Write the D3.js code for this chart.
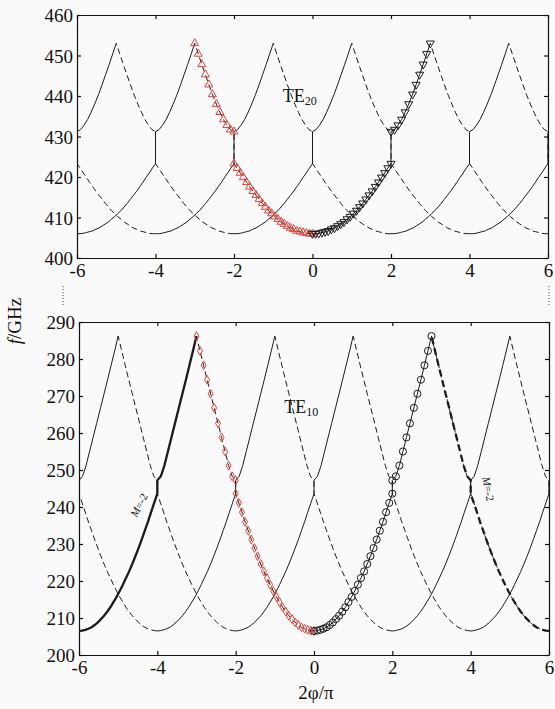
<!DOCTYPE html>
<html lang="en">
<head>
<meta charset="UTF-8">
<script src="https://cdn.jsdelivr.net/npm/d3@7"></script>
<title>TE20 / TE10 dispersion</title>
<style>
  body { margin: 0; background: #fafafa; }
  svg text { font-family: "Liberation Serif", "DejaVu Serif", serif; fill: #111; }
</style>
</head>
<body>
<script>
// phase axis ticks and the zone centres the folded branches repeat at
const xTicks = [-6, -4, -2, 0, 2, 4, 6];
const centers = [-8, -6, -4, -2, 0, 2, 4, 6, 8];

// distance from the zone centre (in units of 2phi/pi)
const lowPhase = [0, 0.08, 0.16, 0.24, 0.32, 0.40, 0.48, 0.56, 0.64, 0.72, 0.80, 0.88, 0.96,
                  1.04, 1.12, 1.20, 1.28, 1.36, 1.44, 1.52, 1.60, 1.68, 1.76, 1.84, 1.92, 2.00];
const upPhase = [2.00, 2.09, 2.18, 2.27, 2.36, 2.45, 2.55, 2.64, 2.73, 2.82, 2.91, 3.00];

// TE20 (top)
const te20Ticks = [400, 410, 420, 430, 440, 450, 460];
const te20Low = [406.0, 406.0, 406.1, 406.3, 406.5, 406.7, 407.1, 407.4, 407.9, 408.4, 408.9, 409.6, 410.2,
                 411.0, 411.7, 412.6, 413.5, 414.5, 415.5, 416.5, 417.6, 418.7, 419.9, 421.0, 422.2, 423.3];
const te20Up = [431.2, 431.7, 432.8, 434.2, 436.0, 438.0, 440.4, 442.8, 445.3, 447.8, 450.4, 453.0];

// TE10 (bottom)
const te10Ticks = [200, 210, 220, 230, 240, 250, 260, 270, 280, 290];
const te10Low = [206.5, 206.6, 206.8, 207.1, 207.5, 208.1, 208.8, 209.7, 210.6, 211.7, 212.9, 214.3, 215.7,
                 217.3, 219.0, 220.8, 222.6, 224.6, 226.7, 228.9, 231.2, 233.6, 236.0, 238.6, 241.1, 243.6];
const te10Up = [247.2, 248.3, 251.2, 255.0, 258.8, 262.6, 266.8, 270.6, 274.4, 278.3, 282.2, 286.2];

const width = 555, height = 709;
const red = "#e0443c", ink = "#1c1c1c";

const svg = d3.select("body").append("svg")
  .attr("width", width)
  .attr("height", height)
  .attr("viewBox", [0, 0, width, height]);

function drawPanel(p) {
  const x = d3.scaleLinear().domain([-6, 6]).range([p.left, p.right]);
  const y = d3.scaleLinear().domain(p.yDomain).range([p.bottom, p.top]);
  const line = d3.line().x(d => x(d[0])).y(d => y(d[1]));

  // one side of a folded branch: lower band, jump across the gap, upper band
  const branch = (c, side) =>
    lowPhase.map((d, i) => [c + side * d, p.low[i]])
      .concat(upPhase.map((d, i) => [c + side * d, p.up[i]]));

  svg.append("clipPath").attr("id", "clip" + p.id)
    .append("rect")
    .attr("x", p.left).attr("y", p.top)
    .attr("width", p.right - p.left).attr("height", p.bottom - p.top);

  const g = svg.append("g").attr("clip-path", `url(#clip${p.id})`);

  // dashed (backward) sides first, solid (forward) on top
  centers.forEach(c => {
    g.append("path")
      .attr("d", line(branch(c, -1)))
      .attr("fill", "none").attr("stroke", ink).attr("stroke-width", 1)
      .attr("stroke-dasharray", "6,3.5");
  });
  centers.forEach(c => {
    g.append("path")
      .attr("d", line(branch(c, 1)))
      .attr("fill", "none").attr("stroke", ink).attr("stroke-width", 1);
  });

  if (p.thick) {
    g.append("path")
      .attr("d", line(branch(-6, 1)))
      .attr("fill", "none").attr("stroke", ink).attr("stroke-width", 2.3);
    g.append("path")
      .attr("d", line(branch(6, -1)))
      .attr("fill", "none").attr("stroke", ink).attr("stroke-width", 2.3)
      .attr("stroke-dasharray", "7,4");
  }

  // markers on the zone-0 branch
  const leftPts = branch(0, -1), rightPts = branch(0, 1);
  const sym = (type, size, rot, color, pts) => {
    g.selectAll(null)
      .data(pts)
      .join("path")
      .attr("d", d3.symbol(type, size))
      .attr("transform", d => `translate(${x(d[0])},${y(d[1])}) rotate(${rot})`)
      .attr("fill", "none")
      .attr("stroke", color)
      .attr("stroke-width", 1);
  };
  if (p.id === "top") {
    sym(d3.symbolTriangle, 28, 0, red, leftPts);
    sym(d3.symbolTriangle, 28, 180, ink, rightPts);
  } else {
    sym(d3.symbolDiamond, 22, 0, red, leftPts);
    sym(d3.symbolCircle, 40, 0, ink, rightPts);
  }

  // frame and axes, ticks pointing inwards
  const fmt = d => String(d);
  const styleAxis = a => a.call(s => s.selectAll("text")
      .attr("font-family", '"Liberation Serif", serif').attr("font-size", 19).attr("fill", "#111"))
    .call(s => s.selectAll("line,path").attr("stroke", "#111").attr("stroke-width", 1.2));

  svg.append("g").attr("transform", `translate(0,${p.bottom})`)
    .call(d3.axisBottom(x).tickValues(xTicks).tickSize(-4).tickSizeOuter(0).tickPadding(6).tickFormat(fmt))
    .call(styleAxis);
  svg.append("g").attr("transform", `translate(0,${p.top})`)
    .call(d3.axisTop(x).tickValues(xTicks).tickSize(-4).tickSizeOuter(0).tickFormat(""))
    .call(styleAxis);
  svg.append("g").attr("transform", `translate(${p.left},0)`)
    .call(d3.axisLeft(y).tickValues(p.yTicks).tickSize(-4).tickSizeOuter(0).tickPadding(4).tickFormat(fmt))
    .call(styleAxis)
    .call(s => s.selectAll("text").attr("dy", "0.36em"));
  svg.append("g").attr("transform", `translate(${p.right},0)`)
    .call(d3.axisRight(y).tickValues(p.yTicks).tickSize(-4).tickSizeOuter(0).tickFormat(""))
    .call(styleAxis);

  // mode label
  const t = svg.append("text")
    .attr("x", x(p.label[0])).attr("y", y(p.label[1]))
    .attr("font-size", 18);
  t.append("tspan").text("TE");
  t.append("tspan").attr("font-size", 12).attr("dy", 3).text(p.sub);

  return { x, y };
}

drawPanel({ id: "top", left: 77, right: 548, top: 15, bottom: 258,
  yDomain: [400, 460], yTicks: te20Ticks, low: te20Low, up: te20Up,
  label: [-0.76, 438.6], sub: "20" });

const bot = drawPanel({ id: "bot", left: 79, right: 549, top: 322, bottom: 655, thick: true,
  yDomain: [200, 290], yTicks: te10Ticks, low: te10Low, up: te10Up,
  label: [-0.76, 265.4], sub: "10" });

// M=-2 annotations
[[-4.47, 240.5, -63], [4.45, 244.9, 79]].forEach(([px, py, a]) => {
  const t = svg.append("text")
    .attr("transform", `translate(${bot.x(px)},${bot.y(py)}) rotate(${a})`)
    .attr("text-anchor", "middle").attr("dy", "0.35em")
    .attr("font-size", 11);
  t.append("tspan").attr("font-style", "italic").text("M");
  t.append("tspan").text("=-2");
});

// axis titles
const yt = svg.append("text")
  .attr("transform", "translate(21,321) rotate(-90)")
  .attr("text-anchor", "middle")
  .attr("font-size", 19);
yt.append("tspan").attr("font-style", "italic").text("f");
yt.append("tspan").text("/GHz");

svg.append("text")
  .attr("x", 316).attr("y", 699)
  .attr("text-anchor", "middle")
  .attr("font-size", 19)
  .text("2φ/π");

// broken-axis dots between the panels
[63, 549].forEach(xx => {
  svg.append("line")
    .attr("x1", xx).attr("x2", xx).attr("y1", 286).attr("y2", 306)
    .attr("stroke", "#444").attr("stroke-width", 1)
    .attr("stroke-dasharray", "1,2");
});
</script>
</body>
</html>
